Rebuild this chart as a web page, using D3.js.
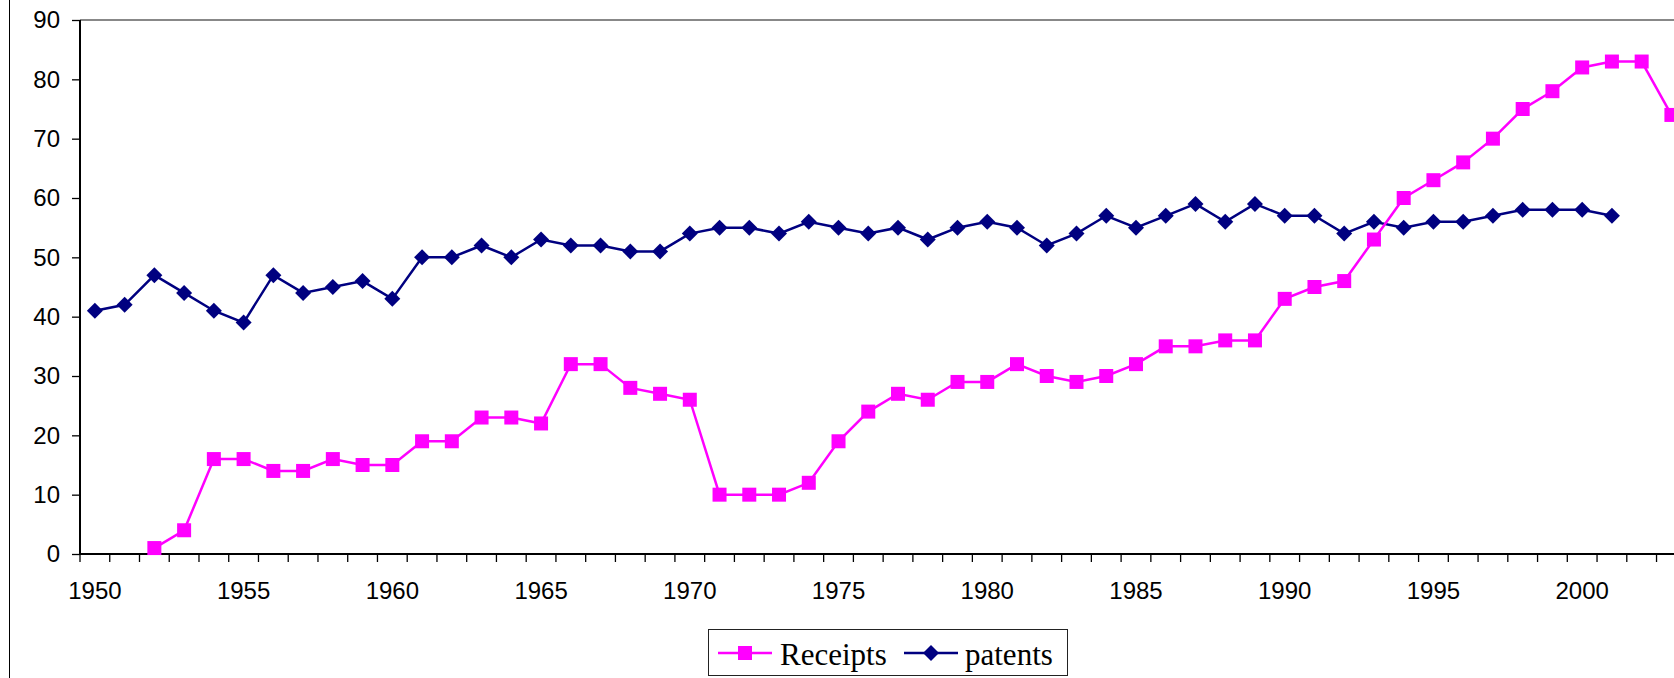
<!DOCTYPE html>
<html>
<head>
<meta charset="utf-8">
<script src="https://cdn.jsdelivr.net/npm/d3@7"></script>
<style>
  html, body { margin: 0; padding: 0; background: #fff; }
  svg { display: block; }
</style>
</head>
<body>
<svg id="chart" width="1674" height="678"></svg>
<script>
const years = d3.range(1950, 2004);
const receiptYears = d3.range(1952, 2004);
const receipts = [1, 4, 16, 16, 14, 14, 16, 15, 15, 19, 19, 23, 23, 22, 32, 32, 28, 27, 26, 10, 10, 10, 12, 19, 24, 27, 26, 29, 29, 32, 30, 29, 30, 32, 35, 35, 36, 36, 43, 45, 46, 53, 60, 63, 66, 70, 75, 78, 82, 83, 83, 74];
const patentYears = d3.range(1950, 2002);
const patents = [41, 42, 47, 44, 41, 39, 47, 44, 45, 46, 43, 50, 50, 52, 50, 53, 52, 52, 51, 51, 54, 55, 55, 54, 56, 55, 54, 55, 53, 55, 56, 55, 52, 54, 57, 55, 57, 59, 56, 59, 57, 57, 54, 56, 55, 56, 56, 57, 58, 58, 58, 57];
const yTicks = [0, 10, 20, 30, 40, 50, 60, 70, 80, 90];
const xLabelYears = [1950, 1955, 1960, 1965, 1970, 1975, 1980, 1985, 1990, 1995, 2000];
const seriesNames = ["Receipts", "patents"];

(function () {
const svg = d3.select("#chart");
const pLeft = 80, pTop = 20, pBottom = 554;
const bandW = 29.746;
const pRight = pLeft + years.length * bandW;

const x = d3.scaleBand().domain(years).range([pLeft, pRight]).padding(0);
const y = d3.scaleLinear().domain([0, 90]).range([pBottom, pTop]);

// outer left border line
svg.append("line").attr("x1", 9.5).attr("x2", 9.5).attr("y1", 0).attr("y2", 678)
  .attr("stroke", "#000").attr("stroke-width", 1);

// top plot border (gray)
svg.append("line").attr("x1", pLeft).attr("x2", 1674).attr("y1", pTop).attr("y2", pTop)
  .attr("stroke", "#888").attr("stroke-width", 2);

// Y axis
const yAxis = svg.append("g").attr("transform", `translate(${pLeft},0)`)
  .call(d3.axisLeft(y).tickValues(yTicks).tickSize(8).tickPadding(12).tickFormat(d3.format("d")));
yAxis.select(".domain").attr("stroke", "#000").attr("stroke-width", 2).attr("d", `M0,${pTop}V${pBottom}`);
yAxis.selectAll(".tick line").attr("stroke", "#000").attr("stroke-width", 1.3);
yAxis.selectAll("text").attr("font-family", "Liberation Sans, Arial, sans-serif").attr("font-size", 24).attr("fill", "#000");

// X axis line
svg.append("line").attr("x1", pLeft).attr("x2", 1674).attr("y1", pBottom).attr("y2", pBottom)
  .attr("stroke", "#000").attr("stroke-width", 2);

// X tick marks between categories
const boundaries = years.map(d => x(d)).concat([pRight]);
svg.append("g").selectAll("line").data(boundaries).join("line")
  .attr("x1", d => d).attr("x2", d => d)
  .attr("y1", pBottom).attr("y2", pBottom + 8)
  .attr("stroke", "#000").attr("stroke-width", 1.3);

// X labels
const xAxis = svg.append("g").attr("transform", `translate(0,${pBottom})`)
  .call(d3.axisBottom(x).tickValues(xLabelYears).tickSize(0).tickPadding(28));
xAxis.select(".domain").remove();
xAxis.selectAll("text").attr("font-family", "Liberation Sans, Arial, sans-serif").attr("font-size", 24).attr("fill", "#000");

const cx = d => x(d) + x.bandwidth() / 2;

const pData = patentYears.map((yr, i) => ({ yr, v: patents[i] }));
const rData = receiptYears.map((yr, i) => ({ yr, v: receipts[i] }));

const line = d3.line().x(d => cx(d.yr)).y(d => y(d.v));

svg.append("path").datum(pData).attr("d", line)
  .attr("fill", "none").attr("stroke", "#000080").attr("stroke-width", 2.5);
svg.append("path").datum(rData).attr("d", line)
  .attr("fill", "none").attr("stroke", "#FF00FF").attr("stroke-width", 2.5);

const diamond = "M0,-8L8,0L0,8L-8,0Z";
svg.append("g").selectAll("path").data(pData).join("path")
  .attr("d", diamond)
  .attr("transform", d => `translate(${cx(d.yr)},${y(d.v)})`)
  .attr("fill", "#000080");

const sq = 14;
svg.append("g").selectAll("rect").data(rData).join("rect")
  .attr("x", d => cx(d.yr) - sq / 2).attr("y", d => y(d.v) - sq / 2)
  .attr("width", sq).attr("height", sq)
  .attr("fill", "#FF00FF");

// Legend
const lg = svg.append("g");
lg.append("rect").attr("x", 708.5).attr("y", 629.5).attr("width", 359).attr("height", 46)
  .attr("fill", "#fff").attr("stroke", "#222").attr("stroke-width", 1);
lg.append("line").attr("x1", 718).attr("x2", 772).attr("y1", 653).attr("y2", 653)
  .attr("stroke", "#FF00FF").attr("stroke-width", 2.5);
lg.append("rect").attr("x", 745 - 7).attr("y", 653 - 7).attr("width", 14).attr("height", 14).attr("fill", "#FF00FF");
lg.append("text").attr("x", 780).attr("y", 665).text(seriesNames[0])
  .attr("font-family", "Liberation Serif, Times New Roman, serif").attr("font-size", 31).attr("fill", "#000");
lg.append("line").attr("x1", 904).attr("x2", 958).attr("y1", 653).attr("y2", 653)
  .attr("stroke", "#000080").attr("stroke-width", 2.5);
lg.append("path").attr("d", diamond).attr("transform", "translate(931,653)").attr("fill", "#000080");
lg.append("text").attr("x", 965).attr("y", 665).text(seriesNames[1])
  .attr("font-family", "Liberation Serif, Times New Roman, serif").attr("font-size", 31).attr("fill", "#000");
})();
</script>
</body>
</html>
